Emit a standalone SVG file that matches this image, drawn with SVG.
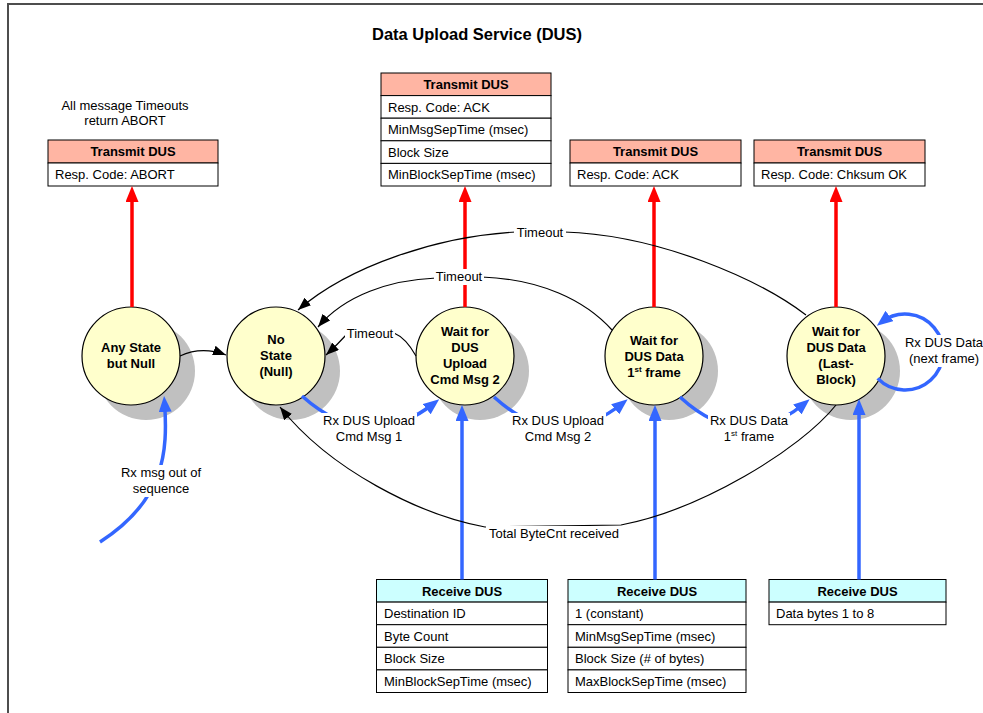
<svg xmlns="http://www.w3.org/2000/svg" width="983" height="713" viewBox="0 0 983 713">
<defs>
<marker id="ah-red" markerUnits="userSpaceOnUse" markerWidth="16" markerHeight="13" refX="10" refY="6.5" orient="auto"><path d="M0,0 L16,6.5 L0,13 z" fill="#FF0000"/></marker>
<marker id="ah-blue" markerUnits="userSpaceOnUse" markerWidth="16" markerHeight="13" refX="10" refY="6.5" orient="auto"><path d="M0,0 L16,6.5 L0,13 z" fill="#3366FF"/></marker>
<marker id="ah-black" markerUnits="userSpaceOnUse" markerWidth="13" markerHeight="10" refX="13" refY="5" orient="auto"><path d="M0,0 L13,5 L0,10 z" fill="#000000"/></marker>
</defs>
<style>
.frame{fill:none;stroke:#4d4d4d;stroke-width:2}
.title{font-family:"Liberation Sans",Arial,sans-serif;font-weight:bold;font-size:16.5px;text-anchor:middle;fill:#000}
.shadow{fill:#c0c0c0}
.state{fill:#ffffcc;stroke:#000;stroke-width:1.2}
.stxt{font-family:"Liberation Sans",Arial,sans-serif;font-weight:bold;font-size:13px;text-anchor:middle;fill:#000}
.txhd{fill:#ffb5a3;stroke:#000;stroke-width:1}
.rxhd{fill:#ccffff;stroke:#000;stroke-width:1}
.row{fill:#fff;stroke:#000;stroke-width:1}
.hdtxt{font-family:"Liberation Sans",Arial,sans-serif;font-weight:bold;font-size:13px;text-anchor:middle;fill:#000}
.rowtxt{font-family:"Liberation Sans",Arial,sans-serif;font-size:13px;fill:#000}
.lbl{font-family:"Liberation Sans",Arial,sans-serif;font-size:13px;text-anchor:middle;fill:#000}
.lblbg{fill:#fff}
.red{fill:none;stroke:#ff0000;stroke-width:3.5;marker-end:url(#ah-red)}
.blue{fill:none;stroke:#3366ff;stroke-width:3.5;marker-end:url(#ah-blue)}
.blk{fill:none;stroke:#000;stroke-width:1.2;marker-end:url(#ah-black)}
</style>
<rect class="frame" x="8" y="4" width="1000" height="730"/>
<text class="title" x="477" y="40">Data Upload Service (DUS)</text>
<text class="lbl" x="125" y="110">All message Timeouts</text>
<text class="lbl" x="125" y="125">return ABORT</text>

<g id="tx-abort">
<rect class="txhd" x="48" y="140" width="170" height="23"/>
<rect class="row" x="48" y="163" width="170" height="23"/>
<text class="hdtxt" x="133" y="156">Transmit DUS</text>
<text class="rowtxt" x="55" y="179">Resp. Code: ABORT</text>
</g>
<g id="tx-ack1">
<rect class="txhd" x="381" y="73" width="170" height="22.6"/>
<rect class="row" x="381" y="95.6" width="170" height="22.6"/>
<rect class="row" x="381" y="118.2" width="170" height="22.6"/>
<rect class="row" x="381" y="140.8" width="170" height="22.6"/>
<rect class="row" x="381" y="163.4" width="170" height="22.6"/>
<text class="hdtxt" x="466" y="89">Transmit DUS</text>
<text class="rowtxt" x="388" y="111.5">Resp. Code: ACK</text>
<text class="rowtxt" x="388" y="134">MinMsgSepTime (msec)</text>
<text class="rowtxt" x="388" y="156.6">Block Size</text>
<text class="rowtxt" x="388" y="179.2">MinBlockSepTime (msec)</text>
</g>
<g id="tx-ack2">
<rect class="txhd" x="570" y="140" width="171" height="23"/>
<rect class="row" x="570" y="163" width="171" height="23"/>
<text class="hdtxt" x="655.5" y="156">Transmit DUS</text>
<text class="rowtxt" x="577" y="179">Resp. Code: ACK</text>
</g>
<g id="tx-chksum">
<rect class="txhd" x="754" y="140" width="171" height="23"/>
<rect class="row" x="754" y="163" width="171" height="23"/>
<text class="hdtxt" x="839.5" y="156">Transmit DUS</text>
<text class="rowtxt" x="761" y="179">Resp. Code: Chksum OK</text>
</g>

<g id="rx-cmd1">
<rect class="rxhd" x="376.5" y="579.5" width="171" height="22.6"/>
<rect class="row" x="376.5" y="602.1" width="171" height="22.6"/>
<rect class="row" x="376.5" y="624.7" width="171" height="22.6"/>
<rect class="row" x="376.5" y="647.3" width="171" height="22.6"/>
<rect class="row" x="376.5" y="669.9" width="171" height="22.6"/>
<text class="hdtxt" x="462" y="595.5">Receive DUS</text>
<text class="rowtxt" x="384" y="618">Destination ID</text>
<text class="rowtxt" x="384" y="640.6">Byte Count</text>
<text class="rowtxt" x="384" y="663.2">Block Size</text>
<text class="rowtxt" x="384" y="685.8">MinBlockSepTime (msec)</text>
</g>
<g id="rx-cmd2">
<rect class="rxhd" x="568" y="579.5" width="178" height="22.6"/>
<rect class="row" x="568" y="602.1" width="178" height="22.6"/>
<rect class="row" x="568" y="624.7" width="178" height="22.6"/>
<rect class="row" x="568" y="647.3" width="178" height="22.6"/>
<rect class="row" x="568" y="669.9" width="178" height="22.6"/>
<text class="hdtxt" x="657" y="595.5">Receive DUS</text>
<text class="rowtxt" x="575" y="618">1 (constant)</text>
<text class="rowtxt" x="575" y="640.6">MinMsgSepTime (msec)</text>
<text class="rowtxt" x="575" y="663.2">Block Size (# of bytes)</text>
<text class="rowtxt" x="575" y="685.8">MaxBlockSepTime (msec)</text>
</g>
<g id="rx-data">
<rect class="rxhd" x="769" y="579.5" width="177" height="22.6"/>
<rect class="row" x="769" y="602.1" width="177" height="22.6"/>
<text class="hdtxt" x="857.5" y="595.5">Receive DUS</text>
<text class="rowtxt" x="776" y="618">Data bytes 1 to 8</text>
</g>

<g id="state-any">
<circle class="shadow" cx="146" cy="371" r="49"/>
<circle class="state" cx="131" cy="356" r="49"/>
<text class="stxt" x="131" y="352">Any State</text>
<text class="stxt" x="131" y="368">but Null</text>
</g>
<g id="state-null">
<circle class="shadow" cx="291" cy="371" r="49"/>
<circle class="state" cx="276" cy="356" r="49"/>
<text class="stxt" x="276" y="344">No</text>
<text class="stxt" x="276" y="360">State</text>
<text class="stxt" x="276" y="376">(Null)</text>
</g>
<g id="state-cmd2">
<circle class="shadow" cx="480" cy="371" r="49"/>
<circle class="state" cx="465" cy="356" r="49"/>
<text class="stxt" x="465" y="336">Wait for</text>
<text class="stxt" x="465" y="352">DUS</text>
<text class="stxt" x="465" y="368">Upload</text>
<text class="stxt" x="465" y="384">Cmd Msg 2</text>
</g>
<g id="state-first">
<circle class="shadow" cx="669" cy="371" r="49"/>
<circle class="state" cx="654" cy="356" r="49"/>
<text class="stxt" x="654" y="345">Wait for</text>
<text class="stxt" x="654" y="361">DUS Data</text>
<text class="stxt" x="654" y="377">1<tspan font-size="8" dy="-5">st</tspan><tspan dy="5"> frame</tspan></text>
</g>
<g id="state-last">
<circle class="shadow" cx="851" cy="371" r="49"/>
<circle class="state" cx="836" cy="356" r="49"/>
<text class="stxt" x="836" y="336">Wait for</text>
<text class="stxt" x="836" y="352">DUS Data</text>
<text class="stxt" x="836" y="368">(Last-</text>
<text class="stxt" x="836" y="384">Block)</text>
</g>

<g id="connectors">
<path class="red" d="M132,307 L132,192"/>
<path class="red" d="M465,307 L465,192"/>
<path class="red" d="M654,307 L654,192"/>
<path class="red" d="M836,307 L836,192"/>
<path class="blue" d="M462,579.5 L462,411"/>
<path class="blue" d="M655,579.5 L655,411"/>
<path class="blue" d="M859,579.5 L859,405"/>
<path class="blue" d="M100,542 C165,500 168,452 164.5,402"/>
<path class="blue" d="M302,396 Q368,455 434.5,403"/>
<path class="blue" d="M494,397 Q558,455 623,403"/>
<path class="blue" d="M680,397 Q743,455 805,403"/>
<path class="blue" d="M877.7,378.4 A38,38 0 1 0 881.6,322.1"/>
<path class="blk" d="M180,356 C195,349 210,349 226,355"/>
<path class="blk" d="M416,356 Q406,338 394,333 L347,334 Q338,344 326,355"/>
<path class="blk" d="M612,330 C585,300 540,279 482,277 L436,278 C390,280 345,295 318,327"/>
<path class="blk" d="M806,315 C760,280 660,235 564,232 L516,232 C440,236 350,265 298,310"/>
<path class="blk" d="M836,405 C800,450 700,510 621,525 L485,527 C420,515 330,470 280,407"/>
</g>

<g id="labels">
<rect class="lblbg" x="345" y="326" width="50" height="16"/>
<text class="lbl" x="370" y="338">Timeout</text>
<rect class="lblbg" x="434" y="269" width="50" height="16"/>
<text class="lbl" x="459" y="281">Timeout</text>
<rect class="lblbg" x="514" y="225" width="52" height="16"/>
<text class="lbl" x="540" y="237">Timeout</text>
<rect class="lblbg" x="321" y="413" width="96" height="32"/>
<text class="lbl" x="369" y="425">Rx DUS Upload</text>
<text class="lbl" x="369" y="441">Cmd Msg 1</text>
<rect class="lblbg" x="510" y="413" width="96" height="32"/>
<text class="lbl" x="558" y="425">Rx DUS Upload</text>
<text class="lbl" x="558" y="441">Cmd Msg 2</text>
<rect class="lblbg" x="708" y="413" width="82" height="32"/>
<text class="lbl" x="749" y="425">Rx DUS Data</text>
<text class="lbl" x="749" y="441">1<tspan font-size="8" dy="-5">st</tspan><tspan dy="5"> frame</tspan></text>
<rect class="lblbg" x="903" y="335" width="80" height="32"/>
<text class="lbl" x="944" y="347">Rx DUS Data</text>
<text class="lbl" x="944" y="363">(next frame)</text>
<rect class="lblbg" x="486" y="526" width="136" height="16"/>
<text class="lbl" x="554" y="538">Total ByteCnt received</text>
<rect class="lblbg" x="119" y="465" width="84" height="32"/>
<text class="lbl" x="161" y="477">Rx msg out of</text>
<text class="lbl" x="161" y="493">sequence</text>
</g>
</svg>
